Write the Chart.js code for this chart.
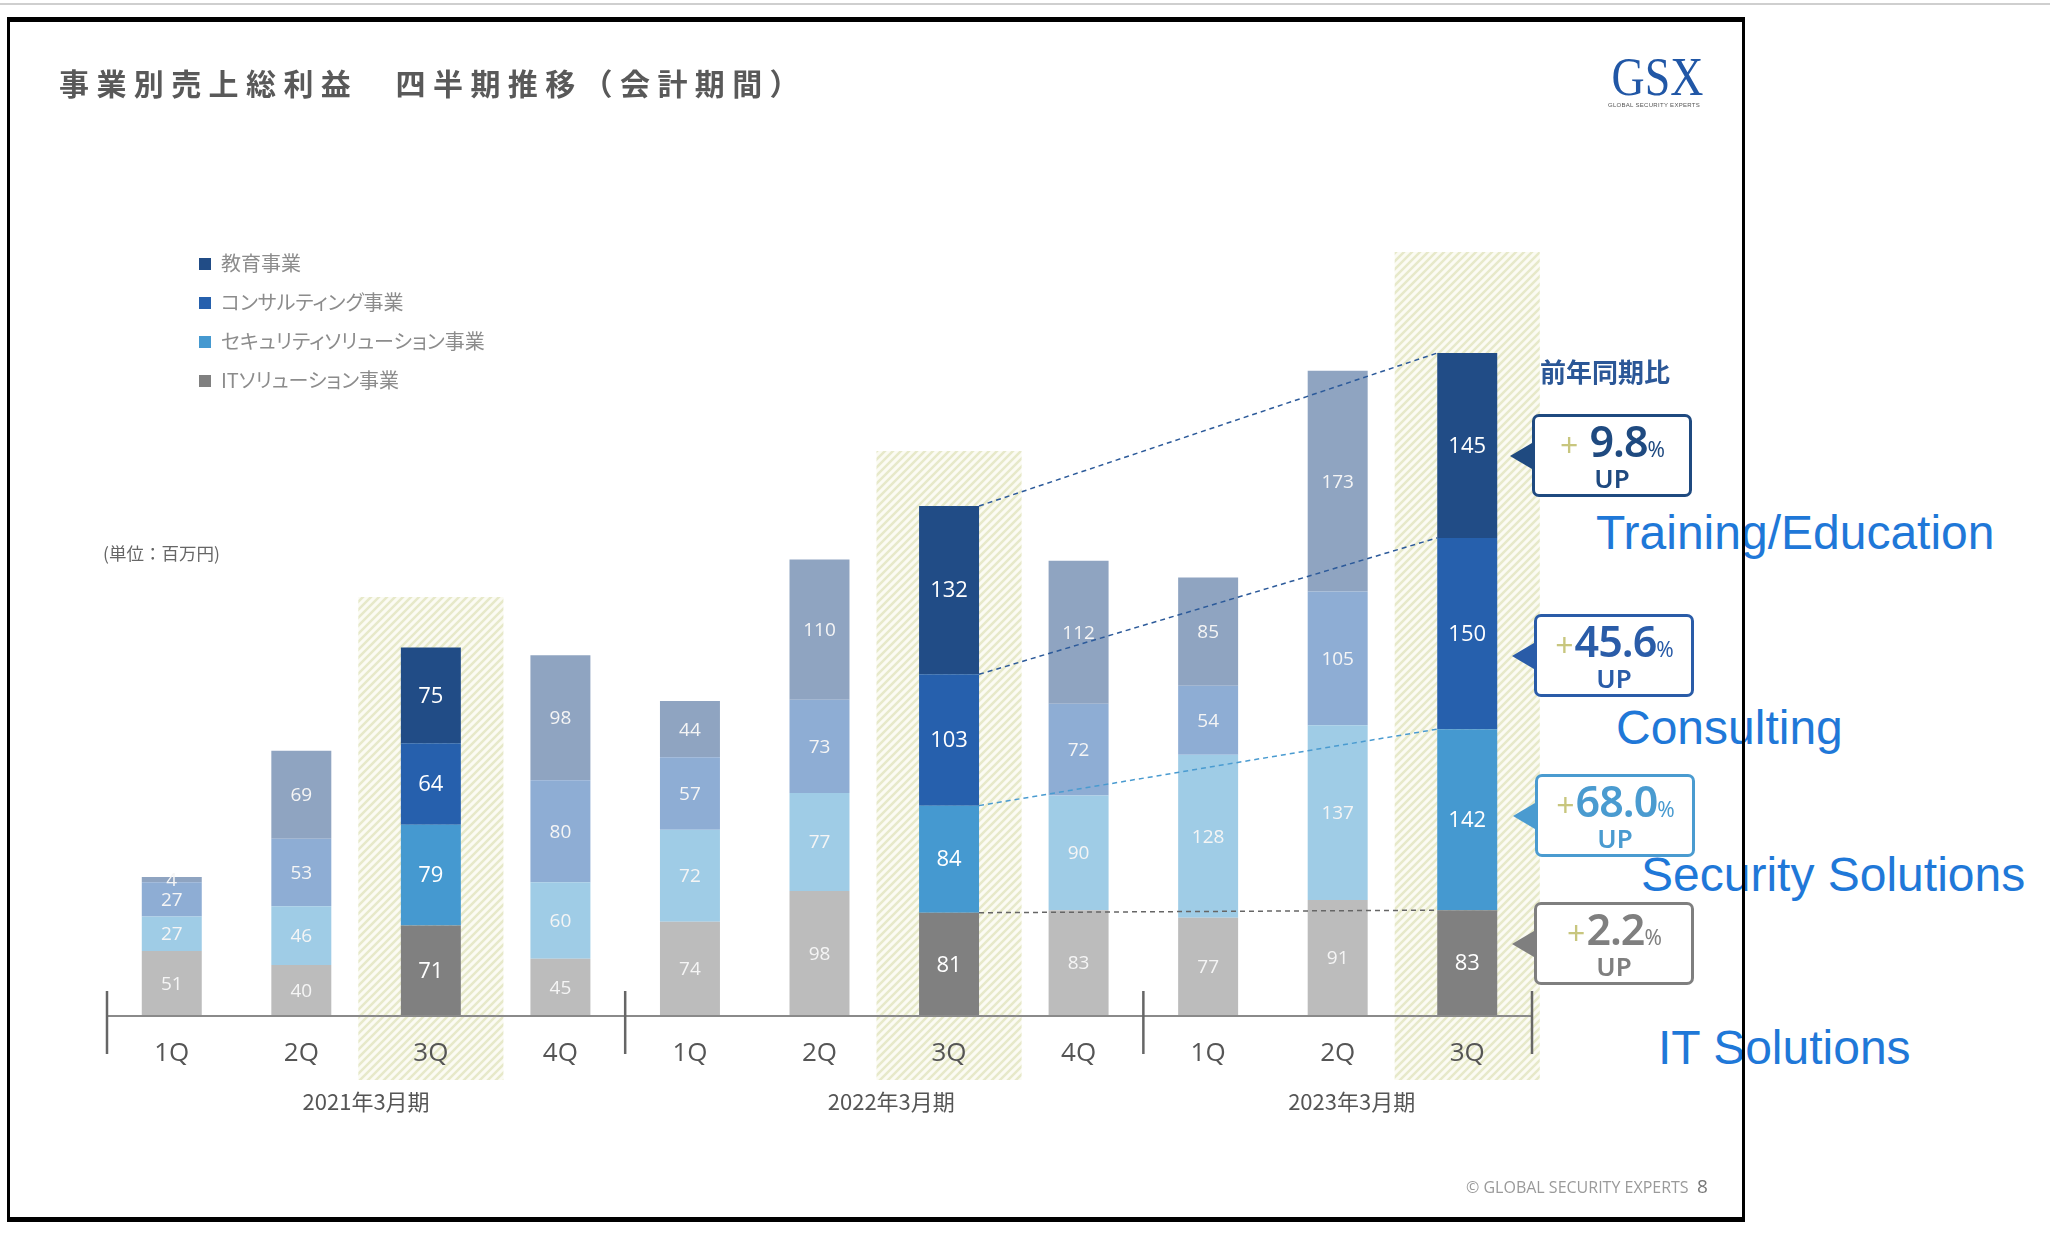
<!DOCTYPE html>
<html lang="ja">
<head>
<meta charset="UTF-8">
<title>事業別売上総利益 四半期推移（会計期間）</title>
<script src="https://cdn.jsdelivr.net/npm/chart.js"></script>
<style>
  body { margin: 0; width: 2050px; height: 1243px; background: #fff; overflow: hidden; position: relative;
         font-family: "Noto Sans CJK JP", "Noto Sans", sans-serif; }
  #chart { position: absolute; left: 0; top: 0; }
  .topline { position: absolute; left: 0; top: 3px; width: 2050px; height: 2px; background: #cfcfcf; }
  .frame { position: absolute; left: 7px; top: 17px; width: 1738px; height: 1205px; box-sizing: border-box;
           border-style: solid; border-color: #000; border-width: 5px 3px 5px 3px; z-index: 5; pointer-events: none; }
  .title { position: absolute; left: 59px; top: 64px; font-size: 30px; line-height: 36px; font-weight: bold;
           letter-spacing: 7.4px; color: #595959; }
  .logo { position: absolute; left: 1604px; top: 50px; width: 100px; text-align: center; }
  .logo .mark { font-family: "Liberation Serif", serif; font-size: 54px; line-height: 54px; color: #2157a6;
                transform: scaleX(0.85); }
  .logo .sub { font-family: "Liberation Sans", sans-serif; font-size: 6px; color: #555; letter-spacing: 0.3px; margin-top: -2px; }
  .legend { position: absolute; left: 199px; top: 250px; color: #8c8c8c; font-size: 20px; font-feature-settings: "palt"; }
  .legend div { height: 39px; line-height: 26px; white-space: nowrap; }
  .legend i { display: inline-block; width: 12px; height: 12px; margin-right: 10px; vertical-align: 1px; }
  .unit { position: absolute; left: 103px; top: 540px; font-size: 17.5px; color: #666; }
  .yoy { position: absolute; left: 1540px; top: 352px; font-size: 26px; font-weight: bold; color: #2b5797; }
  .callout { position: absolute; width: 160px; height: 83px; box-sizing: border-box; border: 3px solid var(--c);
             border-radius: 7px; background: #fff; color: var(--c); text-align: center;
             font-family: "Noto Sans", "Noto Sans CJK JP", sans-serif; }
  .callout::before { content: ''; position: absolute; left: -25px; top: 50%; margin-top: -13px; border-style: solid;
                     border-width: 13px 22px 13px 0; border-color: transparent var(--c) transparent transparent; }
  .callout .val { font-size: 43px; line-height: 42px; margin-top: 3px; white-space: nowrap; font-weight: 600; letter-spacing: -1px; }
  .callout .plus { color: #c8c67e; font-size: 32px; font-weight: 400; margin-right: 2px; }
  .callout .pct { font-size: 21px; font-weight: 400; }
  .callout .up { font-size: 26px; line-height: 26px; font-weight: 600; margin-top: -5px; }
  .en { position: absolute; font-family: "Liberation Sans", Arial, sans-serif; font-size: 48px; line-height: 48px;
        color: #1f78d8; white-space: nowrap; }
  .footer { position: absolute; left: 1466px; top: 1176px; font-family: "Open Sans", sans-serif; font-size: 16px; color: #9a9a9a; }
  .page { position: absolute; left: 1697px; top: 1173px; font-family: "Open Sans", sans-serif; font-size: 19px; color: #777; }
</style>
</head>
<body>
<div class="topline"></div>

<div class="en" style="left:1596px; top:509px;">Training/Education</div>
<div class="en" style="left:1616px; top:704px;">Consulting</div>
<div class="en" style="left:1641px; top:851px;">Security Solutions</div>
<div class="en" style="left:1658px; top:1024px;">IT Solutions</div>

<canvas id="chart" width="2050" height="1243"></canvas>

<div class="title">事業別売上総利益　四半期推移（会計期間）</div>
<div class="logo"><div class="mark">GSX</div><div class="sub">GLOBAL SECURITY EXPERTS</div></div>

<div class="legend">
  <div><i style="background:#214c86"></i>教育事業</div>
  <div><i style="background:#2660ad"></i>コンサルティング事業</div>
  <div><i style="background:#4599d0"></i>セキュリティソリューション事業</div>
  <div><i style="background:#808080"></i>ITソリューション事業</div>
</div>
<div class="unit">(単位：百万円)</div>

<div class="yoy">前年同期比</div>
<div class="callout" style="left:1532px; top:414px; --c:#1f4a80">
  <div class="val"><span class="plus">+</span> 9.8<span class="pct">%</span></div><div class="up">UP</div>
</div>
<div class="callout" style="left:1534px; top:614px; --c:#2a5ca8">
  <div class="val"><span class="plus">+</span>45.6<span class="pct">%</span></div><div class="up">UP</div>
</div>
<div class="callout" style="left:1535px; top:774px; --c:#4a9bd0">
  <div class="val"><span class="plus">+</span>68.0<span class="pct">%</span></div><div class="up">UP</div>
</div>
<div class="callout" style="left:1534px; top:902px; --c:#7f7f7f">
  <div class="val"><span class="plus">+</span>2.2<span class="pct">%</span></div><div class="up">UP</div>
</div>

<div class="footer">© GLOBAL SECURITY EXPERTS</div>
<div class="page">8</div>
<div class="frame"></div>

<script>
// 四半期ラベルと会計年度
const quarters = ['1Q', '2Q', '3Q', '4Q', '1Q', '2Q', '3Q', '4Q', '1Q', '2Q', '3Q'];
const fiscalYears = ['2021年3月期', '2022年3月期', '2023年3月期'];
const yearStarts = [0, 4, 8];

// 売上総利益（百万円）
const itSolutions       = [51, 40, 71, 45, 74, 98, 81, 83, 77, 91, 83];
const securitySolutions = [27, 46, 79, 60, 72, 77, 84, 90, 128, 137, 142];
const consulting        = [27, 53, 64, 80, 57, 73, 103, 72, 54, 105, 150];
const education         = [4, 69, 75, 98, 44, 110, 132, 112, 85, 173, 145];

// 強調する列（各期の3Q）
const highlighted = [2, 6, 10];
const hatchTopPx = [597, 451, 252];
const hatchBottomPx = 1080;

const darkColors  = { it: '#808080', security: '#4599d0', consulting: '#2660ad', education: '#214c86' };
const lightColors = { it: '#bcbcbc', security: '#9fcce6', consulting: '#8eadd4', education: '#8fa4c1' };

function colorsFor(key) {
    return quarters.map((q, i) => highlighted.includes(i) ? darkColors[key] : lightColors[key]);
}

function makeHatch(ctx) {
    const c = document.createElement('canvas');
    c.width = 8; c.height = 8;
    const g = c.getContext('2d');
    g.fillStyle = '#fbfbf3';
    g.fillRect(0, 0, 8, 8);
    g.strokeStyle = '#e7e9c9';
    g.lineWidth = 2.5;
    g.beginPath();
    g.moveTo(-2, 10); g.lineTo(10, -2);
    g.moveTo(-2, 2); g.lineTo(2, -2);
    g.moveTo(6, 10); g.lineTo(10, 6);
    g.stroke();
    return ctx.createPattern(c, 'repeat');
}

// 背景の斜線、数値ラベル、破線、区切り線など
const decorPlugin = {
    id: 'decor',
    beforeDraw(chart) {
        const { ctx, scales: { x } } = chart;
        const w = x.getPixelForValue(1) - x.getPixelForValue(0);
        ctx.save();
        ctx.fillStyle = makeHatch(ctx);
        highlighted.forEach((idx, k) => {
            const cx = x.getPixelForValue(idx);
            ctx.fillRect(cx - w * 0.56, hatchTopPx[k], w * 1.12, hatchBottomPx - hatchTopPx[k]);
        });
        ctx.restore();
    },
    afterDatasetsDraw(chart) {
        const { ctx, chartArea } = chart;
        ctx.save();
        // 軸線
        ctx.strokeStyle = '#8a8a8a';
        ctx.lineWidth = 2;
        ctx.beginPath();
        ctx.moveTo(chartArea.left, chartArea.bottom);
        ctx.lineTo(chartArea.right, chartArea.bottom);
        ctx.stroke();

        // 前年同期比の破線
        const lineColors = ['#666666', '#4a9bd0', '#2c5a9a', '#2c5a9a'];
        ctx.lineWidth = 1.5;
        ctx.setLineDash([5, 4]);
        chart.data.datasets.forEach((ds, d) => {
            const meta = chart.getDatasetMeta(d);
            const a = meta.data[6], b = meta.data[10];
            ctx.strokeStyle = lineColors[d];
            ctx.beginPath();
            ctx.moveTo(a.x + a.width / 2, a.y);
            ctx.lineTo(b.x - b.width / 2, b.y);
            ctx.stroke();
        });
        ctx.setLineDash([]);

        // 数値ラベル
        ctx.textAlign = 'center';
        ctx.textBaseline = 'middle';
        chart.data.datasets.forEach((ds, d) => {
            const meta = chart.getDatasetMeta(d);
            meta.data.forEach((el, i) => {
                const hi = highlighted.includes(i);
                ctx.font = (hi ? '22px' : '19px') + ' "Open Sans", sans-serif';
                ctx.fillStyle = hi ? '#ffffff' : '#f5f5f5';
                ctx.fillText(String(ds.data[i]), el.x, (el.y + el.base) / 2 + 1);
            });
        });
        ctx.restore();
    },
    afterDraw(chart) {
        const { ctx, chartArea, scales: { x } } = chart;
        const bounds = [chartArea.left];
        yearStarts.slice(1).forEach(s => bounds.push((x.getPixelForValue(s - 1) + x.getPixelForValue(s)) / 2));
        bounds.push(chartArea.right);
        ctx.save();
        ctx.strokeStyle = '#666';
        ctx.lineWidth = 2.5;
        bounds.forEach(bx => {
            ctx.beginPath();
            ctx.moveTo(bx, chartArea.bottom - 25);
            ctx.lineTo(bx, chartArea.bottom + 38);
            ctx.stroke();
        });
        ctx.fillStyle = '#555';
        ctx.font = '22px "Noto Sans CJK JP", sans-serif';
        ctx.textAlign = 'center';
        ctx.textBaseline = 'middle';
        fiscalYears.forEach((label, k) => {
            ctx.fillText(label, (bounds[k] + bounds[k + 1]) / 2 + k * 7, chartArea.bottom + 86);
        });
        ctx.restore();
    }
};

const chart = new Chart(document.getElementById('chart').getContext('2d'), {
    type: 'bar',
    data: {
        labels: quarters,
        datasets: [
            { label: 'ITソリューション事業', data: itSolutions, backgroundColor: colorsFor('it') },
            { label: 'セキュリティソリューション事業', data: securitySolutions, backgroundColor: colorsFor('security') },
            { label: 'コンサルティング事業', data: consulting, backgroundColor: colorsFor('consulting') },
            { label: '教育事業', data: education, backgroundColor: colorsFor('education') }
        ]
    },
    options: {
        responsive: false,
        animation: false,
        devicePixelRatio: 1,
        layout: { padding: { left: 107, right: 518, top: 251, bottom: 127 } },
        datasets: { bar: { categoryPercentage: 1, barPercentage: 0.463, borderWidth: 0 } },
        scales: {
            x: {
                stacked: true,
                grid: { display: false, drawTicks: false },
                border: { display: false },
                ticks: { color: '#555', padding: 22, font: { size: 26, family: '"Open Sans", sans-serif' } },
                afterFit(scale) { scale.height = 100; }
            },
            y: { stacked: true, display: false, min: 0, max: 600 }
        },
        plugins: { legend: { display: false }, tooltip: { enabled: false } }
    },
    plugins: [decorPlugin]
});
</script>
</body>
</html>
